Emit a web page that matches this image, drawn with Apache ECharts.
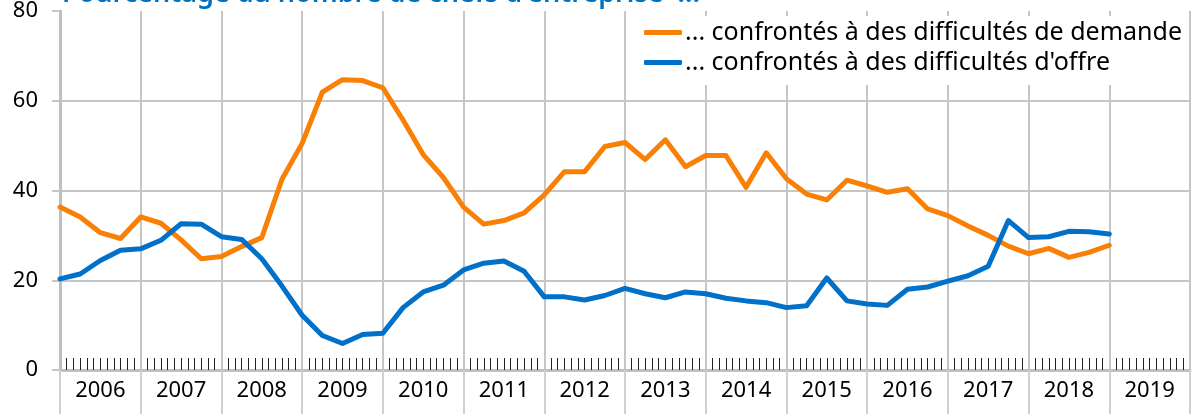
<!DOCTYPE html>
<html>
<head>
<meta charset="utf-8">
<script src="https://cdn.jsdelivr.net/npm/echarts@6/dist/echarts.min.js"></script>
<style>
    html, body { margin: 0; padding: 0; background: #fff; }
    #chart { width: 1192px; height: 414px; }
</style>
</head>
<body>
<div id="chart"></div>
<script>
// trimestres 2006T1 .. 2019T1
const quarters = [];
for (let y = 2006; y <= 2019; y++) {
    for (let q = 0; q < 4; q++) {
        if (y === 2019 && q > 0) break;
        quarters.push(y + q / 4);
    }
}

const years = ['2006', '2007', '2008', '2009', '2010', '2011', '2012',
    '2013', '2014', '2015', '2016', '2017', '2018', '2019'];

const demande = [36.3, 34.1, 30.6, 29.3, 34.1, 32.7, 29.0, 24.8, 25.3, 27.5,
    29.5, 42.5, 50.5, 61.9, 64.7, 64.5, 62.9, 55.7, 48.0, 42.9,
    36.3, 32.5, 33.3, 35.0, 39.0, 44.2, 44.2, 49.8, 50.7, 46.9,
    51.3, 45.3, 47.8, 47.8, 40.7, 48.4, 42.6, 39.2, 37.9, 42.3,
    41.0, 39.6, 40.4, 35.9, 34.4, 32.1, 30.0, 27.6, 25.9, 27.1,
    25.1, 26.2, 27.8];

const offre = [20.3, 21.4, 24.4, 26.7, 27.0, 28.9, 32.6, 32.5, 29.7, 29.1,
    24.8, 18.7, 12.2, 7.7, 5.9, 7.9, 8.2, 13.9, 17.4, 18.9,
    22.3, 23.8, 24.3, 22.0, 16.3, 16.3, 15.6, 16.6, 18.2, 17.0,
    16.1, 17.4, 17.0, 16.0, 15.4, 15.0, 13.9, 14.3, 20.5, 15.4,
    14.7, 14.4, 18.0, 18.5, 19.8, 21.0, 23.1, 33.3, 29.5, 29.7,
    30.9, 30.8, 30.3];

const yTicks = [0, 20, 40, 60, 80];

const font = 'Noto Sans';
const gridColor = '#c6c6c6';

const chart = echarts.init(document.getElementById('chart'));

const option = {
    animation: false,
    backgroundColor: '#fff',
    grid: {
        left: 60,
        right: 2,
        top: 6,
        bottom: 44
    },
    graphic: [{
        type: 'text',
        x: 62,
        y: -19,
        z: 100,
        style: {
            text: "Pourcentage du nombre de chefs d'entreprise  ...",
            font: '600 27px "Noto Sans"',
            fill: '#0070C0'
        }
    }],
    legend: {
        orient: 'vertical',
        left: 636,
        top: 16,
        padding: [4, 6, 10, 8],
        backgroundColor: '#fff',
        itemWidth: 38,
        itemHeight: 5,
        itemGap: 5,
        itemStyle: { borderWidth: 0 },
        icon: 'roundRect',
        textStyle: { fontFamily: font, fontSize: 25, color: '#000', padding: [0, 0, 0, -2] },
        data: ['... confrontés à des difficultés de demande', "... confrontés à des difficultés d'offre"]
    },
    xAxis: [{
        type: 'value',
        min: 2006,
        max: 2020,
        interval: 1,
        axisLine: { show: true, onZero: false, lineStyle: { color: '#bfbfbf', width: 3 } },
        axisTick: { show: false, inside: true },
        minorTick: { show: true, splitNumber: 12, length: 12, lineStyle: { color: '#222', width: 1 } },
        axisLabel: { show: false },
        splitLine: { show: true, lineStyle: { color: gridColor, width: 2 } }
    }, {
        type: 'category',
        position: 'bottom',
        data: years,
        boundaryGap: true,
        axisLine: { show: false },
        axisTick: { show: true, length: 44, lineStyle: { color: '#d0d0d0', width: 2 } },
        axisLabel: { fontFamily: font, fontSize: 22, color: '#000', margin: 10 },
        splitLine: { show: false }
    }],
    yAxis: {
        type: 'value',
        min: yTicks[0],
        max: yTicks[yTicks.length - 1],
        interval: 20,
        axisLine: { show: true, lineStyle: { color: '#bfbfbf', width: 3 } },
        axisTick: { show: true, length: 8, lineStyle: { color: gridColor, width: 2 } },
        axisLabel: { fontFamily: font, fontSize: 22, color: '#000', margin: 22 },
        splitLine: {
            show: true,
            lineStyle: { color: [gridColor, gridColor, gridColor, gridColor, 'rgba(0,0,0,0)'], width: 2 }
        }
    },
    series: [{
        name: '... confrontés à des difficultés de demande',
        type: 'line',
        xAxisIndex: 0,
        showSymbol: false,
        symbol: 'none',
        color: '#F98006',
        lineStyle: { width: 5, join: 'round', cap: 'round' },
        data: quarters.map((q, i) => [q, demande[i]])
    }, {
        name: "... confrontés à des difficultés d'offre",
        type: 'line',
        xAxisIndex: 0,
        showSymbol: false,
        symbol: 'none',
        color: '#0070C8',
        lineStyle: { width: 5, join: 'round', cap: 'round' },
        data: quarters.map((q, i) => [q, offre[i]])
    }]
};

chart.setOption(option);
</script>
</body>
</html>
